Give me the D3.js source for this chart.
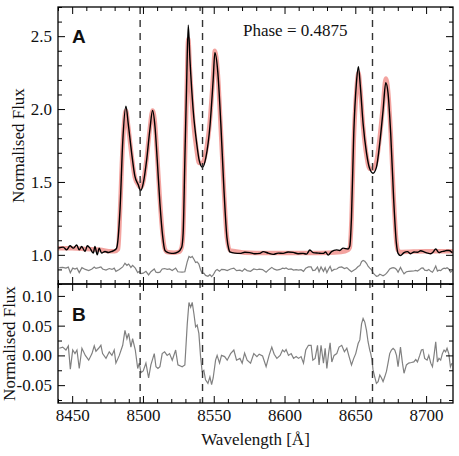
<!DOCTYPE html>
<html>
<head>
<meta charset="utf-8">
<script src="https://cdn.jsdelivr.net/npm/d3@7"></script>
<style>
  html, body { margin: 0; padding: 0; background: #fff; }
  svg { display: block; }
  text { font-family: "Liberation Serif", "Times New Roman", serif; fill: #111; }
</style>
</head>
<body>
<div id="chart"></div>
<script>
// Ca II triplet fit, phase 0.4875 - spectrum (top) and residuals (bottom)

// observed spectrum (black)
const obsWave = [8440.2, 8443.7, 8446.1, 8448.5, 8450.8, 8453.2, 8455.0, 8456.7, 8459.1, 8460.7,
  8462.6, 8464.9, 8466.1, 8467.7, 8469.1, 8470.8, 8473.2, 8475.5, 8477.9, 8480.2, 8481.4,
  8483.8, 8485.7, 8488.0, 8489.6, 8492.0, 8494.3, 8496.7, 8498.4, 8500.2, 8502.6, 8504.9,
  8506.8, 8508.5, 8510.1, 8512.0, 8513.9, 8515.5, 8516.7, 8519.0, 8521.4, 8524.9, 8527.3,
  8528.4, 8529.6, 8530.8, 8532.0, 8533.2, 8535.5, 8537.9, 8539.7, 8542.1, 8544.5, 8547.3,
  8549.6, 8550.8, 8552.9, 8555.0, 8557.2, 8559.3, 8560.6, 8561.4, 8565.0, 8568.5, 8572.0,
  8575.5, 8579.0, 8582.6, 8584.9, 8588.5, 8592.0, 8595.5, 8599.0, 8602.5, 8606.1, 8609.6,
  8613.1, 8615.5, 8617.9, 8620.2, 8623.8, 8627.3, 8629.0, 8630.8, 8633.2, 8636.7, 8639.0,
  8641.4, 8644.9, 8646.1, 8647.3, 8648.9, 8650.8, 8652.2, 8653.6, 8655.5, 8657.9, 8660.2,
  8662.5, 8664.9, 8667.3, 8669.6, 8671.5, 8673.1, 8675.0, 8677.1, 8679.0, 8680.2, 8681.9,
  8684.4, 8686.8, 8689.1, 8691.5, 8693.9, 8696.2, 8698.6, 8701.0, 8703.3, 8705.0, 8706.8,
  8709.1, 8710.9, 8712.7, 8714.5, 8716.2, 8718.5];
const obsFlux = [1.046, 1.053, 1.034, 1.062, 1.046, 1.068, 1.034, 1.057, 1.023, 1.062,
  1.046, 1.012, 1.057, 1.000, 1.046, 1.012, 1.023, 1.016, 1.023, 1.034, 1.046,
  1.31, 1.77, 2.02, 1.90, 1.70, 1.54, 1.48, 1.44, 1.49, 1.65, 1.86,
  1.99, 1.88, 1.65, 1.35, 1.13, 1.03, 1.02, 1.012, 1.01, 1.02, 1.05,
  1.15, 1.65, 2.15, 2.575, 2.34, 1.99, 1.77, 1.65, 1.60, 1.67, 1.88,
  2.20, 2.386, 2.25, 1.90, 1.45, 1.12, 1.04, 1.02, 1.012, 1.01, 1.018,
  1.015, 1.008, 1.01, 1.022, 1.012, 1.003, 1.012, 1.01, 1.02, 1.017, 1.008,
  1.01, 1.005, 1.033, 1.015, 1.012, 1.01, 1.02, 0.998, 1.022, 1.034, 1.03,
  1.046, 1.04, 1.06, 1.26, 1.83, 2.18, 2.29, 2.15, 1.90, 1.70, 1.59,
  1.56, 1.60, 1.77, 1.99, 2.18, 2.11, 1.83, 1.38, 1.08, 1.01, 0.995,
  1.015, 1.022, 1.008, 1.02, 1.018, 1.028, 1.02, 1.012, 1.008, 1.02, 1.04,
  1.015, 1.022, 1.025, 1.03, 1.03, 1.015];

// model spectrum (red, broad)
const modelWave = [8440, 8450, 8460, 8470, 8476, 8480, 8482.5, 8483.8, 8485.7, 8488.0, 8489.6,
  8492.0, 8494.3, 8496.7, 8498.4, 8500.2, 8502.6, 8504.9, 8506.8, 8508.5, 8510.1, 8512.0,
  8513.9, 8515.5, 8517.0, 8522.0, 8525.5, 8527.3, 8528.4, 8529.6, 8530.8, 8532.0, 8533.2,
  8535.5, 8537.9, 8539.7, 8542.1, 8544.5, 8547.3, 8549.6, 8550.8, 8552.9, 8555.0, 8557.2,
  8559.3, 8561.4, 8580, 8600, 8620, 8640, 8645.0, 8646.1, 8647.3, 8648.9, 8650.8, 8652.2,
  8653.6, 8655.5, 8657.9, 8660.2, 8662.5, 8664.9, 8667.3, 8669.6, 8671.5, 8673.1, 8675.0,
  8677.1, 8679.0, 8680.2, 8682.0, 8700, 8719];
const modelFlux = [1.045, 1.045, 1.04, 1.035, 1.025, 1.025, 1.04, 1.30, 1.75, 1.99, 1.88,
  1.68, 1.53, 1.48, 1.46, 1.50, 1.66, 1.87, 1.99, 1.90, 1.67, 1.37,
  1.14, 1.04, 1.02, 1.015, 1.02, 1.05, 1.15, 1.62, 2.08, 2.48, 2.27,
  1.92, 1.72, 1.63, 1.63, 1.71, 1.92, 2.23, 2.40, 2.24, 1.86, 1.44,
  1.12, 1.03, 1.012, 1.012, 1.013, 1.02, 1.035, 1.05, 1.24, 1.78, 2.13, 2.25,
  2.13, 1.88, 1.68, 1.59, 1.59, 1.64, 1.81, 2.03, 2.21, 2.13, 1.84,
  1.39, 1.09, 1.03, 1.02, 1.025, 1.025];

// residuals (grey) - drawn in panel B and offset in panel A
const residWave = [8440.9, 8443.3, 8445.6, 8447.3, 8448.7, 8450.4, 8452.0, 8453.4, 8455.0, 8456.9,
  8459.3, 8461.7, 8464.0, 8465.6, 8466.8, 8468.7, 8470.3, 8471.5, 8473.9, 8476.2,
  8478.1, 8479.7, 8480.9, 8483.3, 8485.7, 8487.3, 8488.7, 8489.9, 8491.5, 8492.7,
  8494.6, 8496.3, 8497.4, 8498.6, 8500.2, 8502.1, 8504.0, 8505.6, 8508.0, 8509.2,
  8510.6, 8512.0, 8513.6, 8515.3, 8517.1, 8518.8, 8520.7, 8523.1, 8524.7, 8527.7,
  8529.6, 8531.3, 8532.5, 8533.7, 8534.8, 8536.0, 8537.2, 8538.3, 8539.5, 8540.7,
  8541.8, 8543.0, 8544.2, 8545.9, 8547.3, 8548.5, 8549.6, 8551.3, 8552.4, 8554.1,
  8555.5, 8557.7, 8559.5, 8561.9, 8564.2, 8566.1, 8568.5, 8570.1, 8571.8, 8573.6,
  8576.0, 8578.3, 8580.5, 8582.1, 8584.5, 8587.0, 8589.1, 8591.0, 8592.7, 8594.6,
  8596.9, 8598.6, 8600.0, 8601.1, 8602.8, 8604.7, 8606.4, 8608.2, 8609.9, 8611.7,
  8613.4, 8615.0, 8616.9, 8618.8, 8620.0, 8621.6, 8623.3, 8624.4, 8625.8, 8627.5,
  8628.7, 8629.9, 8631.1, 8632.2, 8633.4, 8635.0, 8636.9, 8638.5, 8640.4, 8642.3,
  8644.0, 8645.6, 8647.3, 8648.9, 8650.3, 8652.0, 8653.2, 8654.4, 8655.5, 8656.7,
  8657.9, 8659.0, 8660.2, 8660.9, 8661.8, 8662.5, 8663.7, 8664.9, 8666.1, 8667.3,
  8668.5, 8669.6, 8670.8, 8672.0, 8673.1, 8674.3, 8675.5, 8676.7, 8677.9, 8679.1,
  8680.2, 8681.9, 8683.3, 8684.4, 8686.1, 8687.7, 8689.6, 8691.3, 8692.7, 8693.9,
  8695.5, 8696.7, 8697.8, 8699.0, 8700.7, 8701.9, 8703.3, 8704.5, 8705.6, 8706.8,
  8708.0, 8709.1, 8710.3, 8711.5, 8712.7, 8713.8, 8714.8, 8716.0, 8717.2, 8718.3];
const residFlux = [0.012, 0.014, 0.009, 0.016, -0.023, 0.009, 0.003, 0.009, -0.022, 0.012,
  0.000, -0.008, 0.003, 0.016, 0.007, 0.012, 0.017, 0.003, -0.005, 0.006,
  0.000, 0.009, -0.013, 0.000, 0.017, 0.042, 0.028, 0.037, 0.014, 0.028,
  0.009, -0.022, -0.013, -0.029, -0.026, -0.013, -0.038, -0.016, 0.003, -0.019,
  -0.022, -0.019, 0.003, 0.006, 0.000, 0.003, -0.008, 0.009, -0.016, -0.019,
  -0.016, 0.053, 0.089, 0.081, 0.089, 0.070, 0.048, 0.051, 0.037, -0.002,
  -0.027, -0.025, -0.041, -0.047, -0.036, -0.049, -0.038, -0.008, 0.000, -0.013,
  0.000, -0.002, -0.008, 0.003, 0.009, -0.008, -0.005, -0.013, 0.004, -0.008,
  -0.013, 0.003, -0.002, 0.002, -0.001, -0.019, 0.000, 0.014, 0.002, -0.005,
  0.000, 0.009, 0.006, 0.010, 0.000, 0.003, -0.005, -0.002, -0.005, -0.002,
  -0.013, 0.009, 0.017, 0.017, -0.008, -0.005, 0.017, -0.016, 0.017, -0.013,
  0.012, -0.022, 0.003, 0.021, -0.011, 0.000, 0.003, 0.014, 0.017, 0.006,
  0.012, -0.002, -0.016, -0.005, 0.003, 0.020, 0.026, 0.053, 0.062, 0.056,
  0.042, 0.023, 0.009, 0.003, -0.008, -0.024, -0.036, -0.047, -0.044, -0.033,
  -0.038, -0.044, -0.036, -0.027, -0.013, 0.003, 0.009, 0.012, 0.009, 0.000,
  -0.019, 0.014, -0.013, -0.030, -0.016, -0.013, -0.012, -0.011, -0.007, -0.011,
  0.000, 0.009, 0.010, -0.005, -0.008, 0.000, -0.013, -0.019, 0.000, 0.023,
  -0.011, -0.005, -0.008, 0.003, 0.009, 0.006, 0.012, 0.003, -0.019, -0.013];
const residOffset = 0.9;

// Ca II triplet rest wavelengths (dashed lines)
const lineCentres = [8498.02, 8542.09, 8662.14];

// axis ticks
const xTicks = [8450, 8500, 8550, 8600, 8650, 8700];
const topYTicks = [1.0, 1.5, 2.0, 2.5];
const botYTicks = [-0.05, 0.00, 0.05, 0.10];
const phaseLabel = 'Phase = 0.4875';

const W = 459, H = 456;
const L = 58, R = 453, T = 7, MID = 284, B = 403;

const x = d3.scaleLinear().domain([8440, 8719]).range([L, R]);
const yTop = d3.scaleLinear().domain([0.8, 2.7]).range([MID, T]);
const yBot = d3.scaleLinear().domain([-0.08, 0.12]).range([B, MID]);

const svg = d3.select('#chart').append('svg')
  .attr('width', W).attr('height', H);

const defs = svg.append('defs');
defs.append('clipPath').attr('id', 'clipTop')
  .append('rect').attr('x', L).attr('y', T).attr('width', R - L).attr('height', MID - T);
defs.append('clipPath').attr('id', 'clipBot')
  .append('rect').attr('x', L).attr('y', MID).attr('width', R - L).attr('height', B - MID);

const zipped = (ws, fs, off = 0) => ws.map((w, i) => [w, fs[i] + off]);

// --- panel A
const panelA = svg.append('g').attr('clip-path', 'url(#clipTop)');
const lineTop = d3.line().x(d => x(d[0])).y(d => yTop(d[1]));

panelA.append('path')
  .datum(zipped(modelWave, modelFlux))
  .attr('d', lineTop.curve(d3.curveMonotoneX))
  .attr('fill', 'none')
  .attr('stroke', '#e8473f')
  .attr('stroke-opacity', 0.5)
  .attr('stroke-width', 4.5)
  .attr('stroke-linejoin', 'round');

panelA.append('path')
  .datum(zipped(obsWave, obsFlux))
  .attr('d', lineTop.curve(d3.curveMonotoneX))
  .attr('fill', 'none')
  .attr('stroke', '#000')
  .attr('stroke-width', 1.4);

panelA.append('path')
  .datum(zipped(residWave, residFlux, residOffset))
  .attr('d', lineTop.curve(d3.curveLinear))
  .attr('fill', 'none')
  .attr('stroke', '#808080')
  .attr('stroke-width', 1.2);

// --- panel B
const panelB = svg.append('g').attr('clip-path', 'url(#clipBot)');
panelB.append('path')
  .datum(zipped(residWave, residFlux))
  .attr('d', d3.line().x(d => x(d[0])).y(d => yBot(d[1])))
  .attr('fill', 'none')
  .attr('stroke', '#808080')
  .attr('stroke-width', 1.2);

// dashed line centres across both panels
svg.append('g').selectAll('line')
  .data(lineCentres)
  .join('line')
  .attr('x1', d => x(d)).attr('x2', d => x(d))
  .attr('y1', T).attr('y2', B)
  .attr('stroke', '#333')
  .attr('stroke-width', 1.4)
  .attr('stroke-dasharray', '7,6');

// --- ticks (inward, on all sides)
const xMinor = d3.range(8440, 8720, 10).filter(v => v % 50 !== 0);
const topMinor = d3.range(0.8, 2.71, 0.1).filter(v => Math.abs(v * 2 - Math.round(v * 2)) > 1e-6);
const botMinor = [-0.075, -0.025, 0.025, 0.075];
const BIG = 7, SMALL = 4;

function tickSet(axisFn, scale, major, minor, transform, fmt, fontSize) {
  const gMaj = svg.append('g').attr('transform', transform)
    .call(axisFn(scale).tickValues(major).tickSize(-BIG).tickPadding(6)
      .tickFormat(fmt || (() => '')));
  const gMin = svg.append('g').attr('transform', transform)
    .call(axisFn(scale).tickValues(minor).tickSize(-SMALL).tickFormat(() => ''));
  [gMaj, gMin].forEach(g => {
    g.select('.domain').remove();
    g.selectAll('line').attr('stroke', '#000').attr('stroke-width', 1);
    g.selectAll('text')
      .style('font-family', '"Liberation Serif", serif')
      .style('font-size', (fontSize || 17) + 'px')
      .attr('fill', '#111');
  });
  return gMaj;
}

// panel A
tickSet(d3.axisTop, x, xTicks, xMinor, `translate(0,${T})`);
tickSet(d3.axisBottom, x, xTicks, xMinor, `translate(0,${MID})`);
tickSet(d3.axisLeft, yTop, topYTicks, topMinor, `translate(${L},0)`, d => d.toFixed(1));
tickSet(d3.axisRight, yTop, topYTicks, topMinor, `translate(${R},0)`);
// panel B
tickSet(d3.axisTop, x, xTicks, xMinor, `translate(0,${MID})`);
tickSet(d3.axisBottom, x, xTicks, xMinor, `translate(0,${B})`, d => String(d));
tickSet(d3.axisLeft, yBot, botYTicks, botMinor, `translate(${L},0)`, d => d.toFixed(2));
tickSet(d3.axisRight, yBot, botYTicks, botMinor, `translate(${R},0)`);

// frames
svg.append('rect').attr('x', L).attr('y', T).attr('width', R - L).attr('height', MID - T)
  .attr('fill', 'none').attr('stroke', '#000').attr('stroke-width', 1.3);
svg.append('rect').attr('x', L).attr('y', MID).attr('width', R - L).attr('height', B - MID)
  .attr('fill', 'none').attr('stroke', '#000').attr('stroke-width', 1.3);

// --- labels
svg.append('text')
  .attr('transform', `translate(24,${(T + MID) / 2}) rotate(-90)`)
  .attr('text-anchor', 'middle')
  .style('font-size', '17px')
  .text('Normalised Flux');

svg.append('text')
  .attr('transform', `translate(15,${(MID + B) / 2}) rotate(-90)`)
  .attr('text-anchor', 'middle')
  .style('font-size', '17px')
  .text('Normalised Flux');

svg.append('text')
  .attr('x', (L + R) / 2).attr('y', 445)
  .attr('text-anchor', 'middle')
  .style('font-size', '17px')
  .text('Wavelength [Å]');

svg.append('text')
  .attr('x', 243).attr('y', 36)
  .style('font-size', '17px')
  .text(phaseLabel);

svg.append('text')
  .attr('x', 72).attr('y', 43)
  .style('font-family', '"Liberation Sans", Arial, sans-serif')
  .style('font-weight', 'bold')
  .style('font-size', '19px')
  .text('A');

svg.append('text')
  .attr('x', 72).attr('y', 321)
  .style('font-family', '"Liberation Sans", Arial, sans-serif')
  .style('font-weight', 'bold')
  .style('font-size', '19px')
  .text('B');
</script>
</body>
</html>
